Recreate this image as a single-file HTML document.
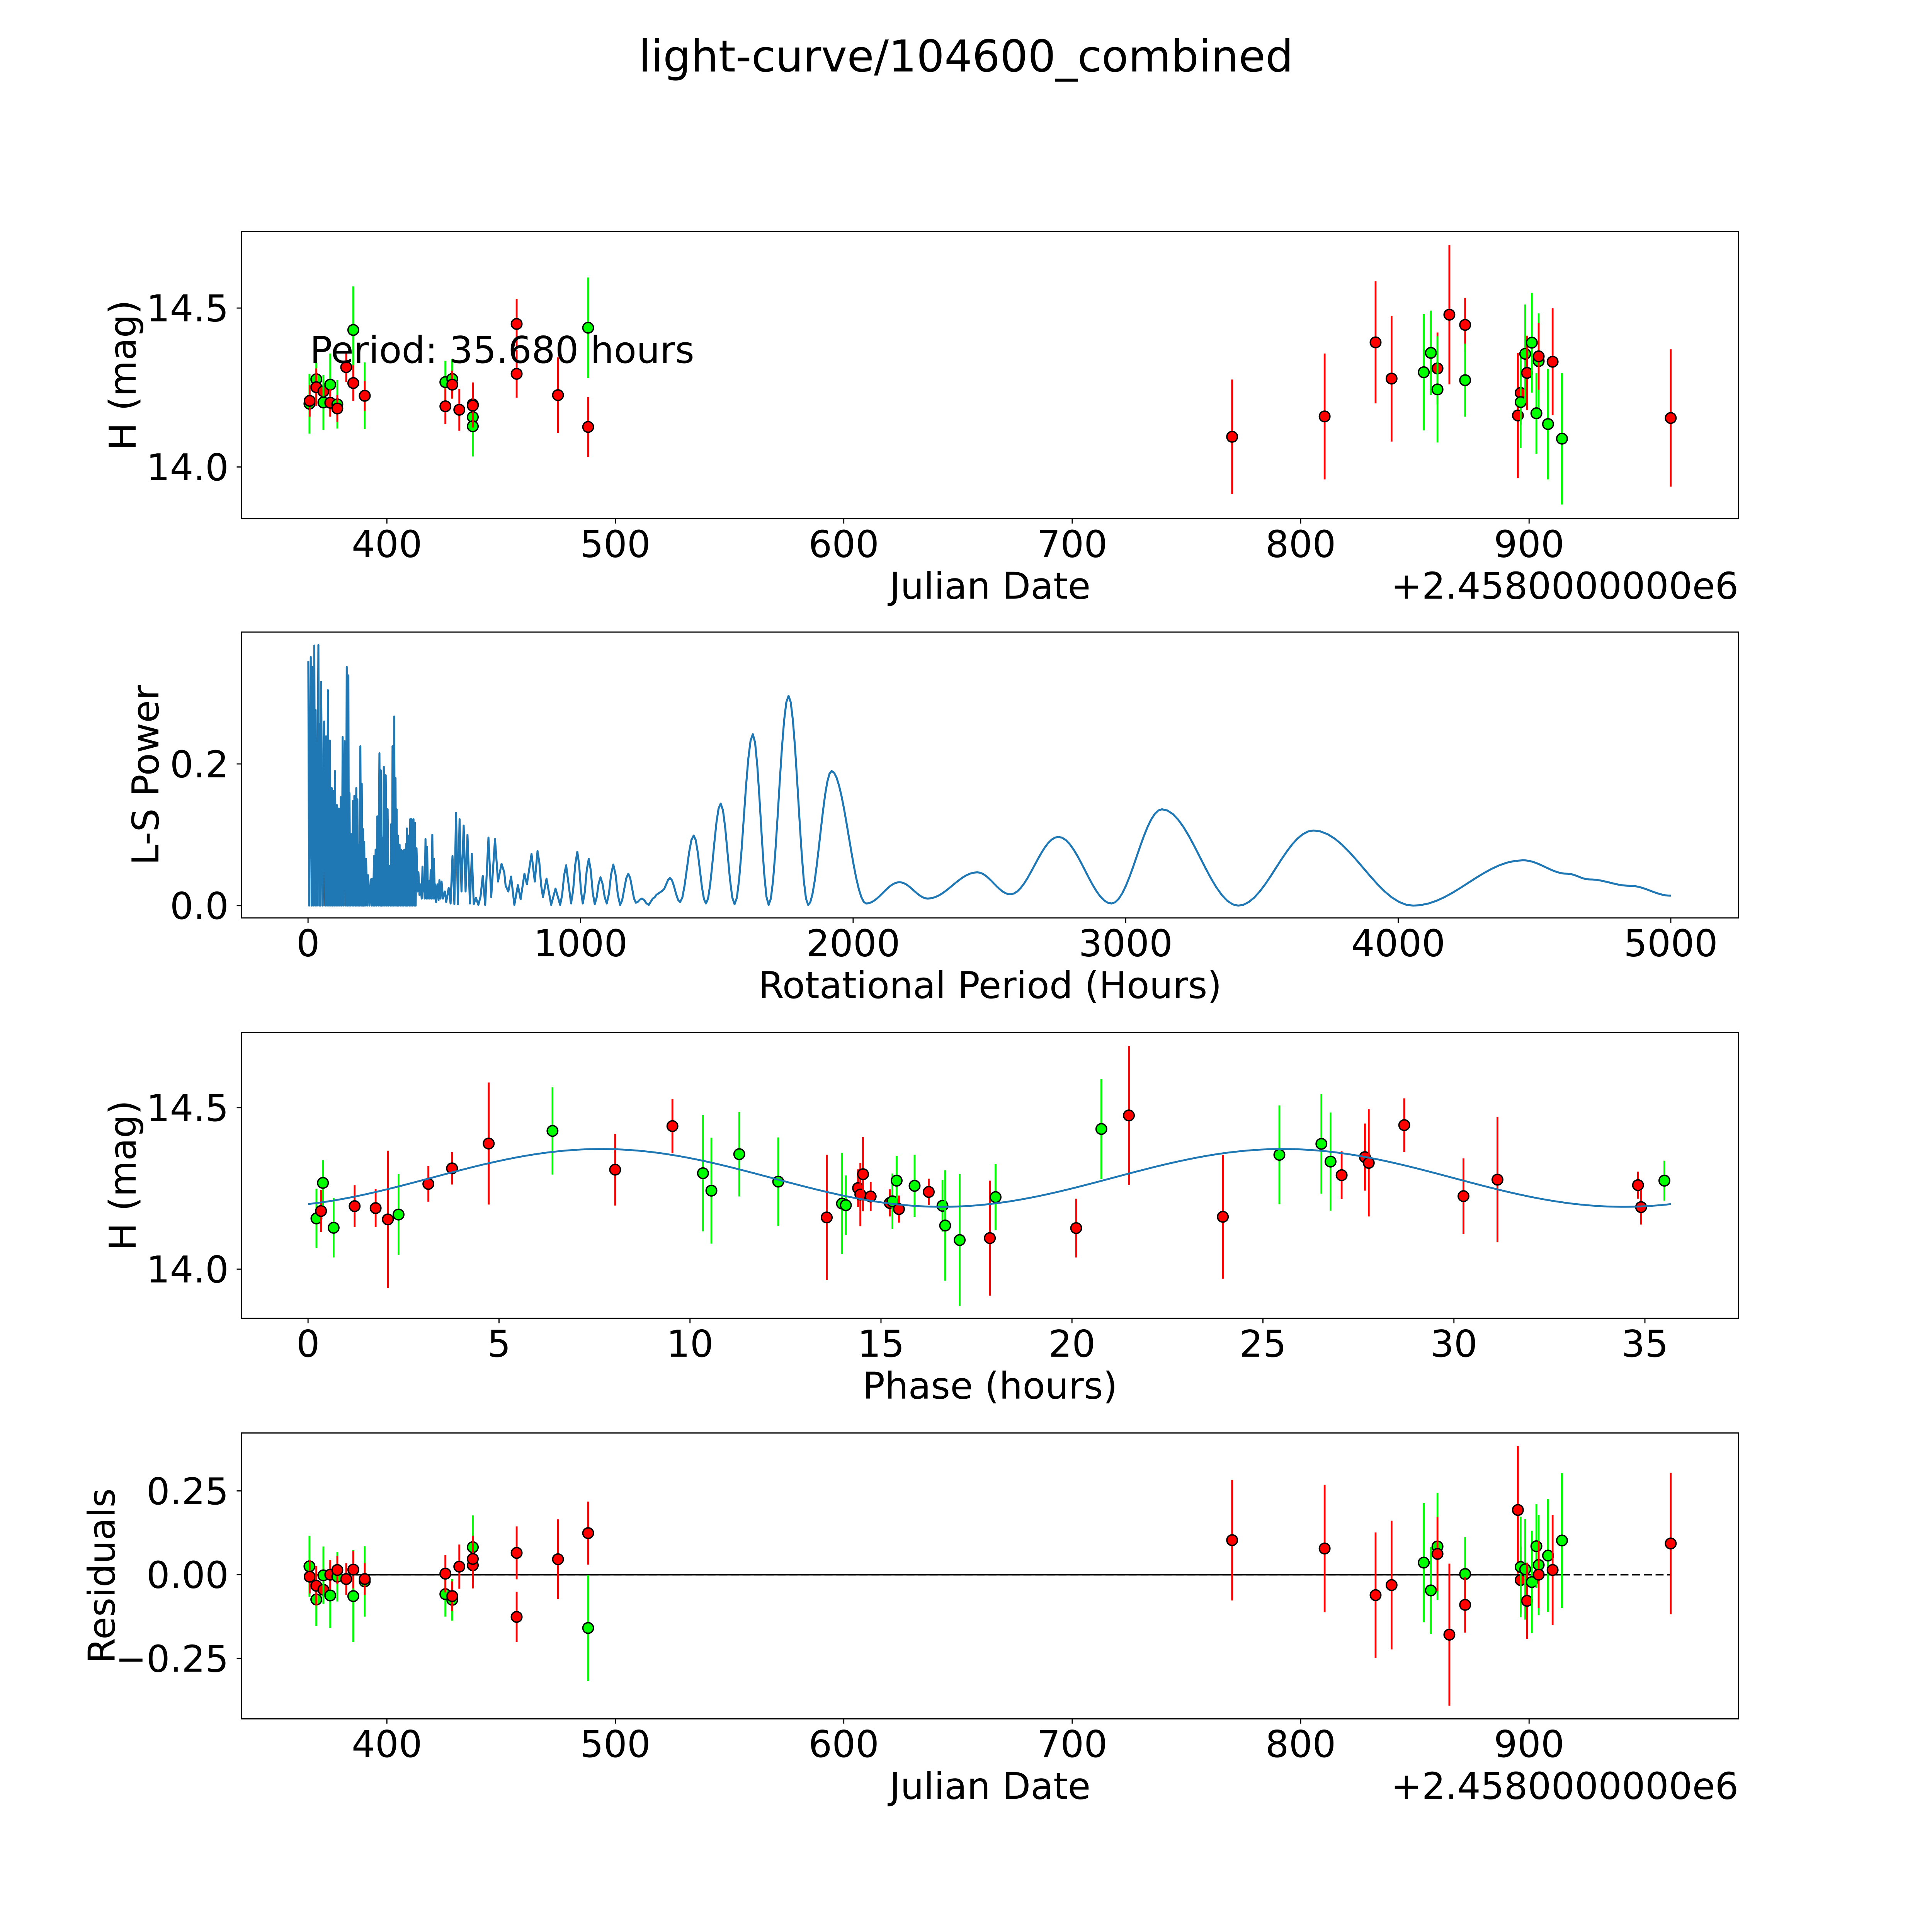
<!DOCTYPE html>
<html><head><meta charset="utf-8"><title>light-curve/104600_combined</title>
<style>html,body{margin:0;padding:0;background:#fff;overflow:hidden;width:100vw;height:100vh;}svg{display:block;width:100vw;height:100vh;}text{font-family:"DejaVu Sans","Liberation Sans",sans-serif;fill:#000;}</style>
</head><body>
<svg id="fig" xmlns="http://www.w3.org/2000/svg" viewBox="0 0 1568 1568" preserveAspectRatio="xMidYMid meet">
<rect x="0" y="0" width="1568" height="1568" fill="#fff"/>
<text x="784" y="58" font-size="35.5" text-anchor="middle">light-curve/104600_combined</text>
</svg>
<script>
// ---- Panel 1: observations ----
const obsDate=[366.1,366.2,369.1,369.1,372.2,372.2,375.2,375.2,378.3,378.3,382.2,385.3,385.3,390.3,390.3,425.6,425.6,428.6,428.6,431.7,437.6,437.6,437.6,437.6,456.8,456.8,474.9,488.1,488.1,
770.0,810.5,832.8,839.8,853.9,857.0,859.9,859.9,865.1,872.0,872.0,895.1,896.3,896.3,898.3,899.1,901.2,904.2,904.2,903.2,908.3,910.3,914.4,962.0];
const obsMag=[14.199,14.208,14.276,14.251,14.238,14.203,14.259,14.202,14.197,14.184,14.314,14.431,14.264,14.224,14.224,14.267,14.191,14.277,14.259,14.180,14.157,14.128,14.197,14.193,14.450,14.293,14.226,14.438,14.126,
14.095,14.159,14.392,14.278,14.298,14.359,14.310,14.244,14.479,14.447,14.273,14.162,14.233,14.204,14.356,14.296,14.391,14.333,14.348,14.169,14.135,14.331,14.089,14.154];
const obsErr=[0.094,0.05,0.079,0.059,0.04,0.086,0.098,0.044,0.076,0.042,0.047,0.137,0.056,0.105,0.047,0.067,0.056,0.062,0.044,0.066,0.06,0.095,0.069,0.069,0.079,0.075,0.119,0.158,0.094,
0.18,0.198,0.192,0.198,0.183,0.133,0.113,0.167,0.219,0.085,0.115,0.197,0.1,0.145,0.155,0.117,0.157,0.15,0.105,0.127,0.174,0.168,0.207,0.216];
const obsBand=['g','r','g','r','r','g','g','r','g','r','r','g','r','g','r','g','r','g','r','r','g','g','r','r','r','r','r','g','r',
'r','r','r','r','g','g','r','g','r','r','g','r','r','g','g','r','g','g','r','g','g','r','g','r'];
const dateTicks=[400,500,600,700,800,900];
const magTicks=[14.0,14.5];

// ---- Panel 2: periodogram ----
const periodHours=[1,4,10,13,15,19,23,26,28,33,38,41,43,46,48,54,59,63,66,70,73,77,80,84,87,90,92,96,99,103,106,110,113,117,120,124,127,131,135,139,142,145,148,150,152,155,158,162,165,168,170,174,177,179,181,184,186,189,192,195,197,200,202,204,206,209,213,217,220,225,230,233,235,239,242,245,248,251,254,258,262,265,267,270,272,275,278,282,285,289,292,295,298,302,305,308,310,313,316,319,321,323,325,328,330,333,336,339,341,345,348,351,353,357,360,362,363,366,369,372,375,378,380,384,387,390,392,395,398,402,405,409,413,417,420,423,425,428,431,434,437,440,443,447,450,453,456,459,462,465,467,470,475,479,482,486,490,495,502,507,516,523,530,537,543,550,556,563,571,578,585,594,601,608,616,625,633,641,650,662,672,686,697,710,720,725,735,745,757,770,780,794,803,820,832,842,862,875,892,908,925,947,965,988,1008,1030,1052,1073,1096,1120,1145,1175,1203,1225,1250,1265,1285,1300,1328,1365,1415,1460,1514,1565,1632,1690,1763,1835,1921,2048,2170,2274,2455,2577,2753,2948,3133,3413,3689,4055,4458,4620,4702,4850,5000];
const lsPower=[0.345,0,0.351,0,0.337,0,0.367,0,0.276,0,0.368,0,0.256,0,0.316,0,0.26,0,0.239,0,0.304,0,0.233,0,0.166,0,0.162,0,0.19,0,0.142,0,0.137,0,0.153,0,0.238,0,0.232,0,0.337,0,0.325,0,0.159,0,0.101,0,0.148,0,0.155,0,0.166,0,0.15,0,0.086,0,0.225,0,0.172,0,0.108,0,0.09,0,0.066,0,0.043,0,0.037,0,0.038,0,0.07,0,0.079,0,0.126,0,0.215,0,0.191,0,0.096,0,0.196,0,0.184,0,0.136,0,0.056,0,0.115,0,0.225,0,0.267,0,0.18,0,0.136,0,0.099,0,0.086,0,0.079,0,0.077,0,0.079,0,0.087,0,0.109,0,0.099,0,0.122,0,0.122,0,0.122,0,0.117,0,0.081,0.02,0.047,0.015,0.03,0.01,0.055,0.02,0.035,0.01,0.094,0.01,0.083,0.01,0.035,0.01,0.05,0.01,0.1,0.01,0.066,0.01,0.03,0.005,0.03,0.008,0.036,0.01,0.034,0.01,0.02,0.005,0.025,0.003,0.07,0.002,0.131,0.002,0.122,0.02,0.113,0.02,0.1,0.003,0.073,0.002,0.011,0.001,0.013,0.042,0.001,0.096,0.012,0.094,0.034,0.059,0.047,0.028,0.02,0.041,0.001,0.029,0.009,0.045,0.03,0.073,0.034,0.077,0.012,0.038,0.001,0.024,0.001,0.057,0.003,0.076,0.003,0.066,0.002,0.04,0.003,0.058,0.001,0.045,0.004,0.01,0.001,0.01,0.017,0.021,0.039,0.005,0.099,0.003,0.144,0.002,0.242,0.001,0.296,0.001,0.19,0.003,0.033,0.01,0.047,0.016,0.097,0.003,0.136,0,0.106,0,0.064,0.045,0.037,0.028,0.014];
const periodTicks=[0,1000,2000,3000,4000,5000];
const powerTicks=[0.0,0.2];

// ---- Panel 3: phased ----
const phase=[0.22,0.34,0.39,0.67,1.22,1.77,2.09,2.37,3.15,3.77,4.73,6.40,8.04,9.54,10.34,10.56,11.29,12.31,13.58,13.98,14.08,14.40,14.46,14.53,
14.73,15.23,15.30,15.41,15.47,15.88,16.25,16.61,16.68,17.06,17.85,18.0,20.11,20.77,21.49,23.95,25.43,26.53,26.77,27.06,27.67,27.77,28.70,30.25,31.14,34.82,34.90,35.51];
const phaseMag=[14.157,14.180,14.267,14.128,14.195,14.189,14.154,14.169,14.264,14.312,14.389,14.428,14.308,14.443,14.297,14.243,14.356,14.271,14.160,14.203,14.198,14.251,14.231,14.294,
14.225,14.205,14.210,14.274,14.186,14.258,14.239,14.196,14.135,14.090,14.096,14.223,14.127,14.434,14.476,14.162,14.354,14.388,14.333,14.291,14.347,14.329,14.446,14.226,14.277,14.260,14.192,14.274];
const phaseErr=[0.092,0.065,0.07,0.092,0.065,0.059,0.213,0.125,0.055,0.05,0.189,0.135,0.111,0.084,0.18,0.164,0.131,0.137,0.194,0.157,0.092,0.058,0.098,0.115,
0.045,0.042,0.086,0.077,0.042,0.096,0.041,0.08,0.171,0.204,0.178,0.103,0.091,0.155,0.215,0.192,0.153,0.154,0.152,0.074,0.104,0.166,0.083,0.117,0.194,0.042,0.054,0.062];
const phaseBand=['g','r','g','g','r','r','r','g','r','r','r','g','r','r','g','g','g','g','r','g','g','r','r','r',
'r','r','g','g','r','g','r','g','g','g','r','g','r','g','r','r','g','g','g','r','r','r','r','r','r','r','r','g'];
const fitParams=[14.2825,0.0895,7.68,17.84]; // mean, amplitude, peak phase, harmonic period
const periodLen=[35.68];
const phaseTicks=[0,5,10,15,20,25,30,35];

// ---- Panel 4: residuals ----
const resDate=[366.1,366.2,369.1,369.1,372.2,372.2,375.2,375.2,378.3,378.3,382.2,385.3,385.3,390.3,390.3,425.6,425.6,428.6,428.6,431.7,437.6,437.6,437.6,456.8,456.8,474.9,488.1,488.1,
770.0,810.5,832.8,839.8,853.9,857.0,859.9,859.9,865.1,872.0,872.0,895.1,896.3,896.3,898.3,899.1,901.2,903.2,904.2,904.2,908.3,910.3,914.4,962.0];
const resVal=[0.025,-0.006,-0.074,-0.033,-0.045,-0.002,-0.062,0.0,-0.006,0.014,-0.013,-0.064,0.015,-0.02,-0.013,-0.058,0.003,-0.075,-0.064,0.024,0.082,0.028,0.047,-0.126,0.065,0.046,-0.159,0.124,
0.103,0.078,-0.061,-0.031,0.036,-0.047,0.084,0.062,-0.179,0.002,-0.09,0.193,-0.016,0.023,0.016,-0.078,-0.022,0.085,0.029,0.0,0.057,0.014,0.102,0.093];
const resErr=[0.091,0.05,0.079,0.059,0.04,0.086,0.098,0.044,0.074,0.042,0.047,0.137,0.056,0.105,0.047,0.067,0.056,0.062,0.044,0.066,0.095,0.069,0.069,0.075,0.079,0.119,0.158,0.094,
0.18,0.19,0.187,0.192,0.178,0.13,0.16,0.11,0.212,0.11,0.083,0.19,0.1,0.15,0.15,0.114,0.153,0.125,0.15,0.1,0.168,0.164,0.201,0.211];
const resBand=['g','r','g','r','r','g','g','r','g','r','r','g','r','g','r','g','r','g','r','r','g','r','r','r','r','r','g','r',
'r','r','r','r','g','g','g','r','r','g','r','r','r','g','g','r','g','g','g','r','g','r','g','r'];
const resTicks=[-0.25,0.0,0.25];
const resTickLabels=['\u22120.25','0.00','0.25'];
const zeroSolidEnd=[914.5];

const NS='http://www.w3.org/2000/svg';
const svg=document.getElementById('fig');
const L=196,R=1411,FS=30;
function mk(tag,attrs,parent){const e=document.createElementNS(NS,tag);for(const k in attrs)e.setAttribute(k,attrs[k]);(parent||svg).appendChild(e);return e;}
function lin(d0,d1,p0,p1){return v=>p0+(v-d0)*(p1-p0)/(d1-d0);}
const COL={r:'#ff0000',g:'#00ff00'};

function axesFrame(name,top,bot,xs,xticks,xlabels,ys,yticks,ylabels,xlabel,ylabel,ylabelX){
  const g=mk('g',{});
  
  
  xticks.forEach((t,i)=>{const x=xs(t);
    const tk=mk('line',{x1:x,x2:x,y1:bot,y2:bot+3.9,stroke:'#000','stroke-width':0.9},g);
    
    
    const tl=mk('text',{x:x,y:bot+31,'font-size':FS,'text-anchor':'middle'},g);tl.textContent=xlabels[i];
    
    
  });
  yticks.forEach((t,i)=>{const y=ys(t);
    const tk=mk('line',{x1:L-3.9,x2:L,y1:y,y2:y,stroke:'#000','stroke-width':0.9},g);
    
    
    const tl=mk('text',{x:185.6,y:y+10.8,'font-size':FS,'text-anchor':'end'},g);tl.textContent=ylabels[i];
    
    
  });
  const xl=mk('text',{x:(L+R)/2,y:bot+65,'font-size':FS,'text-anchor':'middle'},g);xl.textContent=xlabel;
  
  
  const cy=(top+bot)/2;
  const yl=mk('text',{x:0,y:0,'font-size':FS,'text-anchor':'middle',transform:'translate('+ylabelX+','+cy+') rotate(-90)'},g);yl.textContent=ylabel;
  
  
  return g;
}
function spines(name,top,bot){
  const r=mk('rect',{x:L,y:top,width:R-L,height:bot-top,fill:'none',stroke:'#000','stroke-width':0.9});
  
  
}
function errPoints(name,xsArr,ysArr,esArr,bands,xs,ys){
  const g=mk('g',{});
  
  
  for(let i=0;i<xsArr.length;i++){
    const x=xs(xsArr[i]),y=ys(ysArr[i]),c=COL[bands[i]];
    const b=mk('line',{x1:x,x2:x,y1:ys(ysArr[i]-esArr[i]),y2:ys(ysArr[i]+esArr[i]),stroke:c,'stroke-width':1.5},g);
    
    
    const m=mk('circle',{cx:x,cy:y,r:4.3,fill:c,stroke:'#000','stroke-width':1.1},g);
    
    
  }
}

// Panel 1
{const top=188,bot=421;
 const xs=lin(400,900,314,1241), ys=lin(14.0,14.5,379,250);
 axesFrame('light-curve-axes',top,bot,xs,dateTicks,dateTicks.map(String),ys,magTicks,magTicks.map(v=>v.toFixed(1)),'Julian Date','H (mag)',110);
 errPoints('light-curve-points',obsDate,obsMag,obsErr,obsBand,xs,ys);
 const pt=mk('text',{x:251.5,y:294.5,'font-size':FS});pt.textContent='Period: 35.680 hours';
 
 
 const off=mk('text',{x:R,y:bot+65,'font-size':FS,'text-anchor':'end'});off.textContent='+2.4580000000e6';
 
 
 spines('light-curve-frame',top,bot);}

// Panel 2
{const top=513,bot=745;
 const xs=lin(0,5000,250,1356), ys=lin(0,0.2,735,620);
 axesFrame('periodogram-axes',top,bot,xs,periodTicks,periodTicks.map(String),ys,powerTicks,powerTicks.map(v=>v.toFixed(1)),'Rotational Period (Hours)','L-S Power',128.5);
 let d='';
 for(let i=0;i<periodHours.length;i++){
   if(i===0){d+='M'+xs(periodHours[0]).toFixed(2)+','+ys(lsPower[0]).toFixed(2);continue;}
   const h0=periodHours[i-1],h1=periodHours[i],p0=lsPower[i-1],p1=lsPower[i];
   const n=Math.max(2,Math.min(14,Math.round((h1-h0)/8)));
   for(let k=1;k<=n;k++){const t=k/n,s=(1-Math.cos(Math.PI*t))/2;
     d+='L'+xs(h0+(h1-h0)*t).toFixed(2)+','+ys(p0+(p1-p0)*s).toFixed(2);}
 }
 const p=mk('path',{d:d,fill:'none',stroke:'#1f77b4','stroke-width':1.6,'stroke-linejoin':'round'});
 
 
 spines('periodogram-frame',top,bot);}

// Panel 3
{const top=838,bot=1070;
 const xs=lin(0,35,250,1335), ys=lin(14.0,14.5,1030,899);
 axesFrame('phase-axes',top,bot,xs,phaseTicks,phaseTicks.map(String),ys,magTicks,magTicks.map(v=>v.toFixed(1)),'Phase (hours)','H (mag)',110);
 errPoints('phase-points',phase,phaseMag,phaseErr,phaseBand,xs,ys);
 let d='';
 for(let k=0;k<=300;k++){const ph=periodLen[0]*k/300;
   const m=fitParams[0]+fitParams[1]*Math.cos(2*Math.PI*(ph-fitParams[2])/fitParams[3]);
   d+=(k?'L':'M')+xs(ph).toFixed(2)+','+ys(m).toFixed(2);}
 const c=mk('path',{d:d,fill:'none',stroke:'#1f77b4','stroke-width':1.5});
 
 
 spines('phase-frame',top,bot);}

// Panel 4
{const top=1163,bot=1395;
 const xs=lin(400,900,314,1241), ys=lin(0,0.25,1278,1210);
 axesFrame('residuals-axes',top,bot,xs,dateTicks,dateTicks.map(String),ys,resTicks,resTickLabels,'Julian Date','Residuals',93);
 const x0=Math.min(...resDate),x1=Math.max(...resDate);
 const z1=mk('line',{x1:xs(x0),x2:xs(zeroSolidEnd[0]),y1:ys(0),y2:ys(0),stroke:'#000','stroke-width':1.3});
 
 
 const z2=mk('line',{x1:xs(x0),x2:xs(x1),y1:ys(0),y2:ys(0),stroke:'#000','stroke-width':1.3,'stroke-dasharray':'6.5,3'});
 
 
 errPoints('residual-points',resDate,resVal,resErr,resBand,xs,ys);
 const off=mk('text',{x:R,y:bot+65,'font-size':FS,'text-anchor':'end'});off.textContent='+2.4580000000e6';
 
 
 spines('residuals-frame',top,bot);}
</script>
</body></html>
